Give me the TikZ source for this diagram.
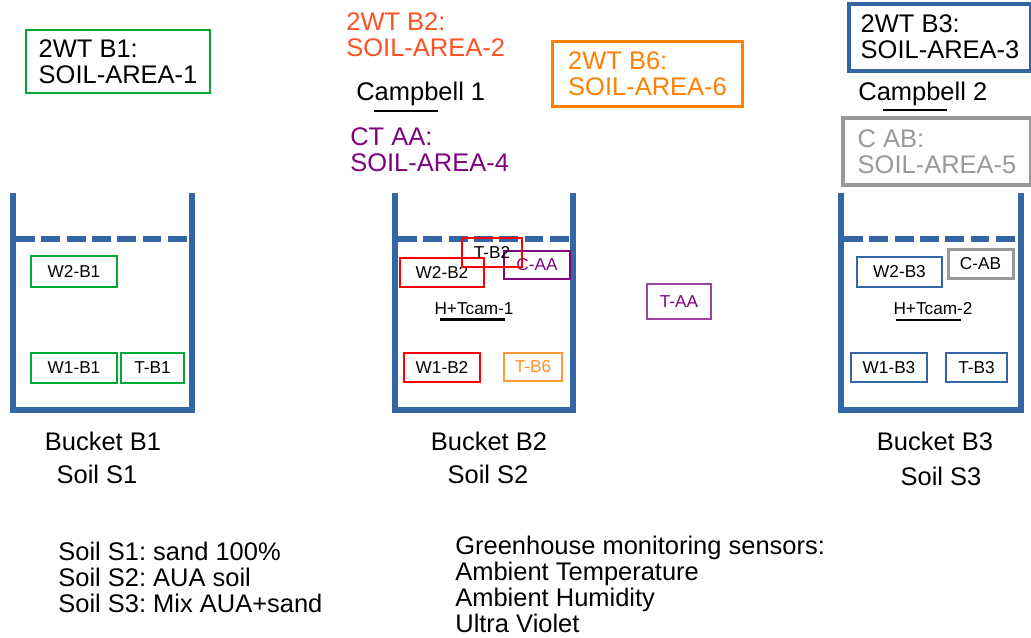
\documentclass[tikz,border=0pt]{standalone}
\usepackage{fontspec}
\setmainfont{Liberation Sans}
\usepackage{xcolor}
\usepackage{tikz}
\usetikzlibrary{positioning}
\definecolor{Pail}{HTML}{3465A4}
\definecolor{Leaf}{HTML}{00A933}
\definecolor{Hot}{HTML}{FF0000}
\definecolor{Plum}{HTML}{800080}
\definecolor{Amber}{HTML}{FF8000}
\definecolor{Flame}{HTML}{FF5022}
\definecolor{Ash}{HTML}{999999}
\newcommand{\bigtxt}{\fontsize{14.5}{14.75}\selectfont}
\newcommand{\smalltxt}{\fontsize{9.8}{11}\selectfont}
\frenchspacing
\tikzset{
  bucket/.style={draw=Pail,line width=.12cm},
  soilline/.style={bucket,dash pattern=on 10.8pt off 3.6pt},
  label/.style={font=\bigtxt,inner sep=0pt,align=left},
  titlebox/.style={label,draw,minimum height=1.3cm},
  probe/.style={draw,font=\smalltxt,inner sep=0pt,line width=.055cm},
  uline/.style={draw=black,line width=.05cm}
}

\begin{document}
\begin{tikzpicture}[x=0.02cm,y=-0.02cm]
  \useasboundingbox (0,0) rectangle (1031,637);
  % buckets
  \draw[bucket] (13,193) -- (13,410) -- (192,410) -- (192,193);
  \draw[soilline] (16,239) -- (190,239);
  \draw[bucket] (395,193) -- (395,410) -- (573,410) -- (573,193);
  \draw[soilline] (398,239) -- (571,239);
  \draw[bucket] (841,193) -- (841,410) -- (1021,410) -- (1021,193);
  \draw[soilline] (844,239) -- (1019,239);

  % areas
  \node[titlebox,draw=Leaf,line width=.05cm,minimum width=3.68cm,minimum height=1.26cm] (area1) at (118,61.5) {2WT B1:\\SOIL-AREA-1};
  \node[label,text=Flame,anchor=west] (area2) at (346,35) {2WT B2:\\SOIL-AREA-2};
  \node[label,anchor=west] (camp1) at (356,94) {Campbell 1};
  \node[label,text=Plum,anchor=west] (area4) at (350,150) {CT AA:\\SOIL-AREA-4};
  \node[titlebox,draw=Amber,text=Amber,line width=.06cm,minimum width=3.82cm] (area6) at (647.5,73.5) {2WT B6:\\SOIL-AREA-6};
  \node[titlebox,draw=Pail,line width=.08cm,minimum width=3.64cm,minimum height=1.34cm] (area3) at (940,37) {2WT B3:\\SOIL-AREA-3};
  \node[label,anchor=west] (camp2) at (858,94) {Campbell 2};
  \node[titlebox,draw=Ash,text=Ash,line width=.08cm,minimum width=3.76cm,minimum height=1.34cm] (area5) at (937,151.5) {C AB:\\SOIL-AREA-5};
  \draw[uline] (374,111) -- (438,111);
  \draw[uline] (883,110) -- (947,110);

  % bucket B1
  \node[probe,draw=Leaf,minimum width=1.72cm,minimum height=.62cm] (w2b1) at (74,271.5) {W2-B1};
  \node[probe,draw=Leaf,minimum width=1.72cm,minimum height=.6cm] (w1b1) at (74,368) {W1-B1};
  \node[probe,draw=Leaf,minimum width=1.26cm,minimum height=.6cm] (tb1) at (152.5,368) {T-B1};

  % bucket B2
  \node[probe,draw=Hot,minimum width=1.68cm,minimum height=.58cm] (w2b2) at (442,272.5) {W2-B2};
  \node[probe,draw=Plum,text=Plum,line width=.05cm,minimum width=1.32cm,minimum height=.56cm] (caa) at (537,265) {C-AA};
  \node[probe,draw=Hot,minimum width=1.2cm,minimum height=.58cm] (tb2) at (492,252.5) {T-B2};
  \node[label,font=\smalltxt] (hcam1) at (474,309) {H+Tcam-1};
  \draw[uline] (440,319.5) -- (505,319.5);
  \node[probe,draw=Hot,minimum width=1.52cm,minimum height=.58cm] (w1b2) at (442,367.5) {W1-B2};
  \node[probe,draw=Amber!80,text=Amber!85,line width=.025cm,minimum width=1.16cm,minimum height=.56cm] (tb6) at (533,367) {T-B6};

  \node[probe,draw=Plum!75,text=Plum,line width=.025cm,minimum width=1.28cm,minimum height=.7cm] (taa) at (679,301.5) {T-AA};

  % bucket B3
  \node[probe,draw=Pail,line width=.05cm,minimum width=1.7cm,minimum height=.6cm] (w2b3) at (899.5,272) {W2-B3};
  \node[probe,draw=Ash,line width=.06cm,minimum width=1.3cm,minimum height=.58cm] (cab) at (980.5,263.5) {C-AB};
  \node[label,font=\smalltxt] (hcam2) at (933,309) {H+Tcam-2};
  \draw[uline] (896,320) -- (961,320);
  \node[probe,draw=Pail,line width=.05cm,minimum width=1.52cm,minimum height=.58cm] (w1b3) at (889,367.5) {W1-B3};
  \node[probe,draw=Pail,line width=.05cm,minimum width=1.22cm,minimum height=.58cm] (tb3) at (976.5,367.5) {T-B3};

  % names
  \node[label] (nb1) at (103,441) {Bucket B1};
  \node[label] (ns1) at (97,474) {Soil S1};
  \node[label] (nb2) at (489,441) {Bucket B2};
  \node[label] (ns2) at (488,474) {Soil S2};
  \node[label] (nb3) at (935,441) {Bucket B3};
  \node[label] (ns3) at (941,476) {Soil S3};

  % legends
  \node[label,anchor=west] (soils) at (58,577) {Soil S1: sand 100\%\\Soil S2: AUA soil\\Soil S3: Mix AUA+sand};
  \node[label,anchor=west] (sensors) at (455,584.5) {Greenhouse monitoring sensors:\\Ambient Temperature\\Ambient Humidity\\Ultra Violet};
\end{tikzpicture}
\end{document}
